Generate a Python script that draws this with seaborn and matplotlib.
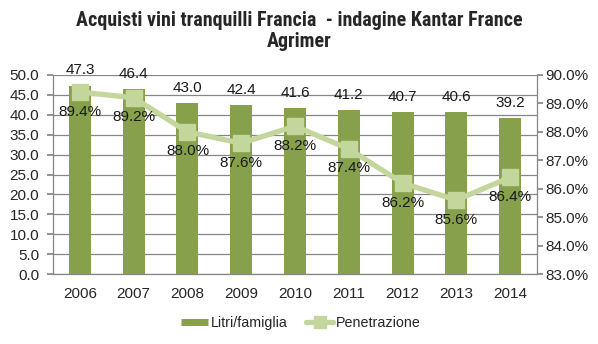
import matplotlib
matplotlib.use("Agg")
import matplotlib.pyplot as plt
import seaborn as sns
import pandas as pd
from matplotlib.lines import Line2D

years = ["2006", "2007", "2008", "2009", "2010", "2011", "2012", "2013", "2014"]
litri = [47.3, 46.4, 43.0, 42.4, 41.6, 41.2, 40.7, 40.6, 39.2]
penetrazione = [89.4, 89.2, 88.0, 87.6, 88.2, 87.4, 86.2, 85.6, 86.4]
left_ticks = [0, 5, 10, 15, 20, 25, 30, 35, 40, 45, 50]
right_ticks = [83, 84, 85, 86, 87, 88, 89, 90]
title = "Acquisti vini tranquilli Francia  - indagine Kantar France\nAgrimer"

sns.set_theme(style="white")
plt.rcParams['font.family'] = ['Liberation Sans', 'DejaVu Sans']

bar_color = "#87A04B"
line_color = "#C3D69B"
grid_color = "#868686"
fs = 11

df = pd.DataFrame({"anno": years, "litri": litri, "pen": penetrazione})

fig = plt.figure(figsize=(5.98, 3.44), dpi=100)
ax = fig.add_axes([53/598, 1 - 274/344, (537-53)/598, (274-75)/344])

sns.barplot(data=df, x="anno", y="litri", color=bar_color, width=0.41,
            saturation=1, ax=ax, linewidth=0, edgecolor="none", zorder=2)
ax.set_ylim(0, 50)
ax.set_yticks(left_ticks)
ax.set_yticklabels([f"{v:.1f}" for v in left_ticks], fontsize=fs)
ax.set_xlabel("")
ax.set_ylabel("")
ax.tick_params(axis="x", length=0, labelsize=fs, pad=9)
ax.tick_params(axis="y", length=4, color=grid_color, pad=6, direction="out", left=True)
ax.yaxis.grid(True, color=grid_color, linewidth=0.9)
ax.set_axisbelow(True)
for s in ["top", "right"]:
    ax.spines[s].set_visible(False)
for s in ["left", "bottom"]:
    ax.spines[s].set_color(grid_color)
    ax.spines[s].set_linewidth(0.9)
ax.set_xlim(-0.5, len(years) - 0.5)

for i, v in enumerate(litri):
    ax.annotate(f"{v:.1f}", (i, v), xytext=(0, 6), textcoords="offset points",
                ha="center", va="bottom", fontsize=fs, color="#1a1a1a")

ax2 = ax.twinx()
ax2.plot(range(len(years)), penetrazione, color=line_color, linewidth=3.8,
         marker="s", markersize=11, markerfacecolor=line_color,
         markeredgecolor=line_color, zorder=3)
ax2.set_ylim(83, 90)
ax2.set_yticks(right_ticks)
ax2.set_yticklabels([f"{v:.1f}%" for v in right_ticks], fontsize=fs)
ax2.tick_params(axis="y", length=4, color=grid_color, pad=2, direction="out", right=True)
for s in ["top", "bottom", "left"]:
    ax2.spines[s].set_visible(False)
ax2.spines["right"].set_color(grid_color)
ax2.spines["right"].set_linewidth(0.9)
ax2.grid(False)

for i, v in enumerate(penetrazione):
    ax2.annotate(f"{v:.1f}%", (i, v), xytext=(0, -9), textcoords="offset points",
                 ha="center", va="top", fontsize=fs, color="#1a1a1a")

fig.text(299/598, 1 - 11/344, title, ha="center", va="top", fontsize=14.4,
         fontweight="bold",
         family=["Liberation Sans Narrow", "DejaVu Sans Condensed", "Roboto Condensed", "DejaVu Sans"],
         fontstretch="condensed", linespacing=1.15)

handles = [Line2D([0], [0], color=bar_color, linewidth=5, solid_capstyle="butt"),
           Line2D([0], [0], color=line_color, linewidth=3.8, marker="s",
                  markersize=9, markerfacecolor=line_color, markeredgecolor=line_color)]
fig.legend(handles, ["Litri/famiglia", "Penetrazione"], loc="center",
           bbox_to_anchor=(301/598, 1 - 323/344), ncol=2, frameon=False,
           fontsize=10.3, handlelength=1.9, columnspacing=1.3, handletextpad=0.2)

fig.savefig("out.png", dpi=100)
